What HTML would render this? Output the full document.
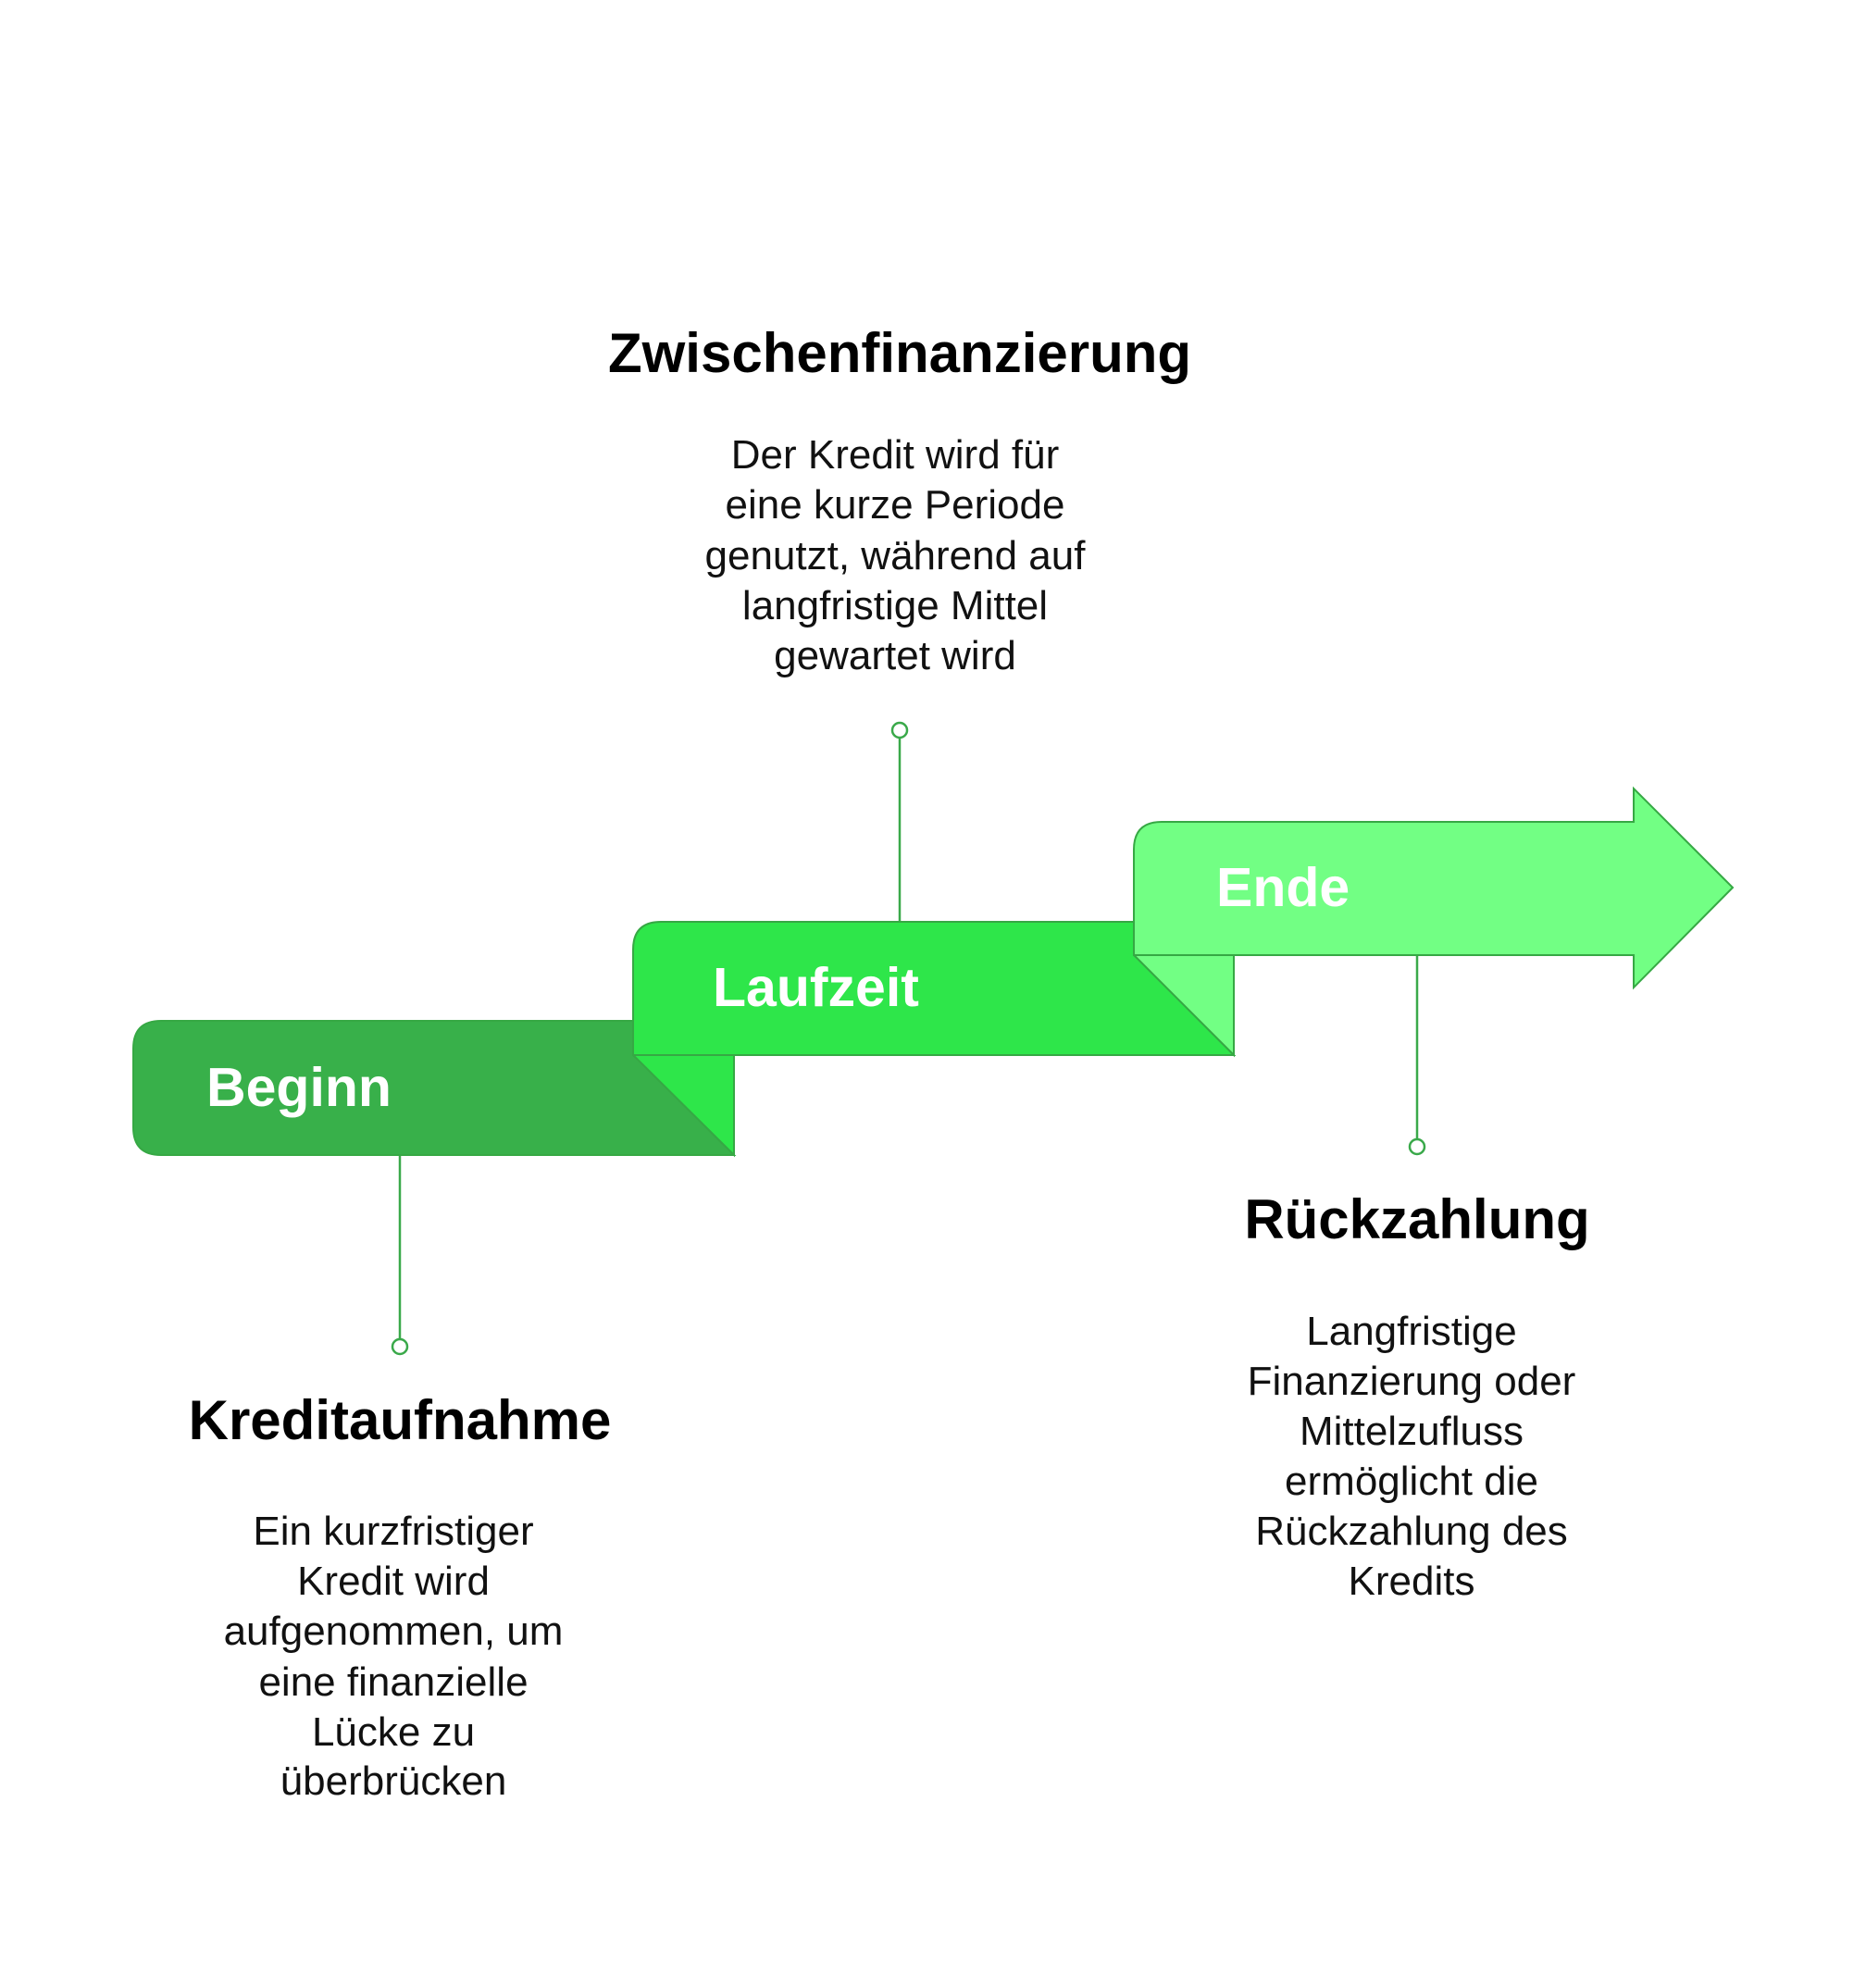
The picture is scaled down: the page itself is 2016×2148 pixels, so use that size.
<!DOCTYPE html>
<html><head><meta charset="utf-8"><style>
html,body{margin:0;padding:0;background:#fff;}
svg{display:block}
text{font-family:"Liberation Sans",Arial,sans-serif}
</style></head><body>
<svg width="2016" height="2148" viewBox="0 0 2016 2148" xmlns="http://www.w3.org/2000/svg">
<g stroke="#3aa94a" stroke-width="2.5" fill="#fff">
<line x1="432" y1="1248" x2="432" y2="1447"/>
<circle cx="432" cy="1455" r="8"/>
<line x1="972" y1="797" x2="972" y2="996"/>
<circle cx="972" cy="789" r="8"/>
<line x1="1531" y1="1032" x2="1531" y2="1231"/>
<circle cx="1531" cy="1239" r="8"/>
</g>
<path d="M684,1140 L793,1248 L793,1140 Z" fill="#2ee64a" stroke="#36a844" stroke-width="2"/>
<path d="M174,1103 L684,1103 L684,1140 L793,1248 L174,1248 Q144,1248 144,1218 L144,1133 Q144,1103 174,1103 Z" fill="#38b04a" stroke="#36a844" stroke-width="2"/>
<path d="M1225,1032 L1333,1140 L1333,1032 Z" fill="#72ff84" stroke="#36a844" stroke-width="2"/>
<path d="M714,996 L1225,996 L1225,1032 L1333,1140 L684,1140 L684,1026 Q684,996 714,996 Z" fill="#2ee64a" stroke="#36a844" stroke-width="2"/>
<path d="M1255,888 L1765,888 L1765,852 L1872,959 L1765,1067 L1765,1032 L1225,1032 L1225,918 Q1225,888 1255,888 Z" fill="#72ff84" stroke="#36a844" stroke-width="2"/>
<g fill="#fff" font-weight="bold" font-size="59">
<text x="223" y="1195">Beginn</text>
<text x="770" y="1087">Laufzeit</text>
<text x="1314" y="979">Ende</text>
</g>
<g fill="#000" font-weight="bold" font-size="60" text-anchor="middle">
<text x="972" y="402">Zwischenfinanzierung</text>
<text x="432" y="1555">Kreditaufnahme</text>
<text x="1531" y="1338">Rückzahlung</text>
</g>
<g fill="#111" font-size="44" text-anchor="middle">
<text x="967" y="506">Der Kredit wird für</text>
<text x="967" y="560">eine kurze Periode</text>
<text x="967" y="615">genutzt, während auf</text>
<text x="967" y="669">langfristige Mittel</text>
<text x="967" y="723">gewartet wird</text>
<text x="425" y="1669">Ein kurzfristiger</text>
<text x="425" y="1723">Kredit wird</text>
<text x="425" y="1777">aufgenommen, um</text>
<text x="425" y="1832">eine finanzielle</text>
<text x="425" y="1886">Lücke zu</text>
<text x="425" y="1939">überbrücken</text>
<text x="1525" y="1453">Langfristige</text>
<text x="1525" y="1507">Finanzierung oder</text>
<text x="1525" y="1561">Mittelzufluss</text>
<text x="1525" y="1615">ermöglicht die</text>
<text x="1525" y="1669">Rückzahlung des</text>
<text x="1525" y="1723">Kredits</text>
</g>
</svg>
</body></html>
